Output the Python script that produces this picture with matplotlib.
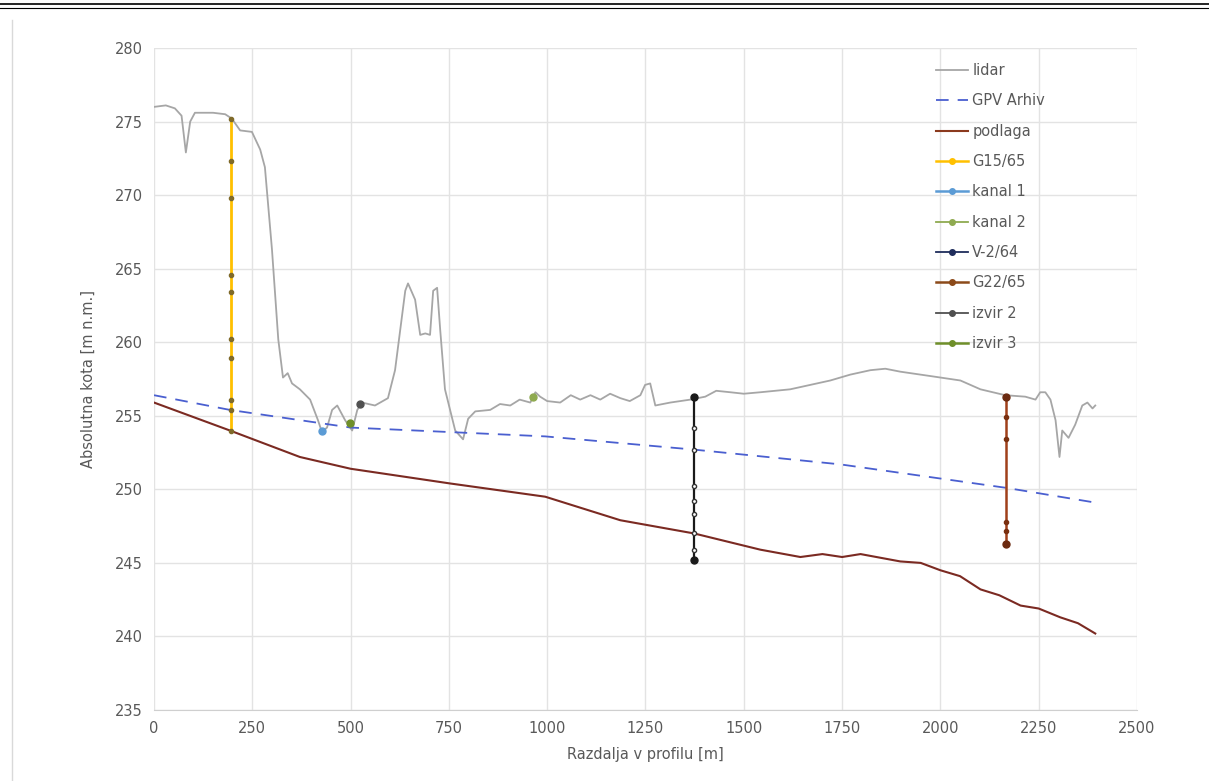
import matplotlib.pyplot as plt
from matplotlib.lines import Line2D

# lidar terrain profile
lidar_x = [0, 30, 53, 70, 81, 92, 104, 150, 181, 198, 219, 249, 270, 282, 300, 316, 328, 340,
           351, 371, 397, 417, 427, 440, 453, 466, 486, 504, 517, 529, 562, 595, 613, 639,
           646, 664, 677, 690, 702, 710, 720, 728, 740, 753, 766, 786, 799, 817, 855, 880,
           906, 930, 957, 970, 982, 1000, 1033, 1060, 1084, 1110, 1135, 1160, 1186, 1210,
           1237, 1249, 1262, 1275, 1313, 1364, 1402, 1430, 1466, 1500, 1542, 1618, 1669,
           1720, 1771, 1822, 1860, 1898, 1975, 2051, 2102, 2165, 2216, 2242, 2254, 2267,
           2280, 2293, 2303, 2310, 2326, 2343, 2361, 2374, 2387, 2394]
lidar_y = [276.0, 276.1, 275.9, 275.4, 272.9, 275.0, 275.6, 275.6, 275.5, 275.2, 274.4,
           274.3, 273.1, 271.9, 266.3, 260.2, 257.6, 257.9, 257.2, 256.8, 256.1, 254.7,
           253.9, 254.2, 255.4, 255.7, 254.7, 254.0, 255.4, 255.9, 255.7, 256.2, 258.1,
           263.5, 264.0, 262.9, 260.5, 260.6, 260.5, 263.5, 263.7, 260.8, 256.8, 255.4,
           254.0, 253.4, 254.8, 255.3, 255.4, 255.8, 255.7, 256.1, 255.9, 256.6, 256.3,
           256.0, 255.9, 256.4, 256.1, 256.4, 256.1, 256.5, 256.2, 256.0, 256.4, 257.1,
           257.2, 255.7, 255.9, 256.1, 256.3, 256.7, 256.6, 256.5, 256.6, 256.8, 257.1,
           257.4, 257.8, 258.1, 258.2, 258.0, 257.7, 257.4, 256.8, 256.4, 256.3, 256.1,
           256.6, 256.6, 256.1, 254.7, 252.2, 254.0, 253.5, 254.4, 255.7, 255.9, 255.5,
           255.7]

# archive groundwater level
gpv_x = [0, 193, 500, 995, 1374, 1745, 2168, 2394]
gpv_y = [256.4, 255.4, 254.2, 253.6, 252.7, 251.7, 250.1, 249.1]

# bedrock
podlaga_x = [0, 193, 371, 500, 753, 995, 1186, 1374, 1542, 1644, 1700, 1750, 1797, 1898,
             1950, 2000, 2050, 2102, 2150, 2204, 2250, 2305, 2350, 2394]
podlaga_y = [255.9, 254.0, 252.2, 251.4, 250.4, 249.5, 247.9, 247.0, 245.9, 245.4, 245.6,
             245.4, 245.6, 245.1, 245.0, 244.5, 244.1, 243.2, 242.8, 242.1, 241.9, 241.3,
             240.9, 240.2]

# boreholes
g15_x = 195
g15_y = [275.2, 272.3, 269.8, 264.6, 263.4, 260.2, 258.9, 256.1, 255.4, 254.0]
v2_x = 1374
v2_y = [256.3, 254.2, 252.7, 250.2, 249.2, 248.3, 247.0, 245.9, 245.2]
g22_x = 2168
g22_y = [256.3, 254.9, 253.4, 247.8, 247.2, 246.3]

# point measurements
kanal1 = (427, 254.0)
kanal2 = (964, 256.3)
izvir2 = (524, 255.8)
izvir3 = (499, 254.5)

fig = plt.figure(figsize=(12.09, 7.81), dpi=100)
ax = fig.add_axes([0.1274, 0.0909, 0.813, 0.8476])

ax.plot(lidar_x, lidar_y, color='#a6a6a6', lw=1.3, label='lidar', zorder=3)
ax.plot(gpv_x, gpv_y, color='#4a5fd0', lw=1.3, ls=(0, (7, 5)), label='GPV Arhiv', zorder=3)
ax.plot(podlaga_x, podlaga_y, color='#7b2a22', lw=1.5, label='podlaga', zorder=3)

ax.plot([g15_x] * len(g15_y), g15_y, color='#ffc000', lw=2, zorder=4)
ax.plot([g15_x] * len(g15_y), g15_y, ls='none', marker='o', ms=3, color='#7f6a2a', zorder=5)
ax.plot([v2_x] * len(v2_y), v2_y, color='#1a1a1a', lw=1.6, zorder=4)
ax.plot([v2_x] * len(v2_y), v2_y, ls='none', marker='o', ms=3, mfc='white', mec='#333333', zorder=5)
ax.plot([v2_x, v2_x], [v2_y[0], v2_y[-1]], ls='none', marker='o', ms=5, color='#1a1a1a', zorder=6)
ax.plot([g22_x] * len(g22_y), g22_y, color='#a0401a', lw=1.8, zorder=4)
ax.plot([g22_x] * len(g22_y), g22_y, ls='none', marker='o', ms=3, color='#7a3010', zorder=5)
ax.plot([g22_x, g22_x], [g22_y[0], g22_y[-1]], ls='none', marker='o', ms=5, color='#6b2a10', zorder=6)

ax.plot(*kanal1, marker='o', ms=5, color='#5b9bd5', zorder=6)
ax.plot(*kanal2, marker='o', ms=5, color='#8faa50', zorder=6)
ax.plot(*izvir2, marker='o', ms=5, color='#505050', zorder=6)
ax.plot(*izvir3, marker='o', ms=5, color='#6f8f2a', zorder=6)

ax.set_xlim(0, 2500)
ax.set_ylim(235, 280)
ax.set_xticks(range(0, 2501, 250))
ax.set_yticks(range(235, 281, 5))
ax.grid(True, color='#e3e3e3', lw=1)
ax.set_axisbelow(True)
for side in ['top', 'right', 'left']:
    ax.spines[side].set_visible(False)
ax.spines['bottom'].set_color('#cfcfcf')
ax.tick_params(length=0, labelsize=10.5, labelcolor='#595959', pad=8)
ax.set_xlabel('Razdalja v profilu [m]', fontsize=10.5, color='#595959', labelpad=8)
ax.set_ylabel('Absolutna kota [m n.m.]', fontsize=10.5, color='#595959', labelpad=14)

handles = [
    Line2D([], [], color='#a6a6a6', lw=1.3),
    Line2D([], [], color='#4a5fd0', lw=1.3, ls=(0, (7, 5))),
    Line2D([], [], color='#8b3a1e', lw=1.5),
    Line2D([], [], color='#ffc000', lw=1.8, marker='o', ms=4),
    Line2D([], [], color='#5b9bd5', lw=1.8, marker='o', ms=4),
    Line2D([], [], color='#8faa50', lw=1.3, marker='o', ms=4),
    Line2D([], [], color='#1f2d5c', lw=1.3, marker='o', ms=4),
    Line2D([], [], color='#8c4a1a', lw=1.8, marker='o', ms=4),
    Line2D([], [], color='#505050', lw=1.3, marker='o', ms=4),
    Line2D([], [], color='#6f8f2a', lw=1.8, marker='o', ms=4),
]
labels = ['lidar', 'GPV Arhiv', 'podlaga', 'G15/65', 'kanal 1', 'kanal 2',
          'V-2/64', 'G22/65', 'izvir 2', 'izvir 3']
leg = ax.legend(handles, labels, loc='upper left', bbox_to_anchor=(0.782, 0.997),
                frameon=False, fontsize=10.5, labelspacing=1.05, handlelength=2.2,
                handletextpad=0.3)
for t in leg.get_texts():
    t.set_color('#595959')

# page border lines
fig.add_artist(Line2D([0, 1], [0.995, 0.995], color='black', lw=1.2, transform=fig.transFigure))
fig.add_artist(Line2D([0, 1], [0.990, 0.990], color='black', lw=0.8, transform=fig.transFigure))
fig.add_artist(Line2D([0.01, 0.01], [0.0, 0.975], color='#d9d9d9', lw=1, transform=fig.transFigure))

fig.savefig('out.png', dpi=100)
